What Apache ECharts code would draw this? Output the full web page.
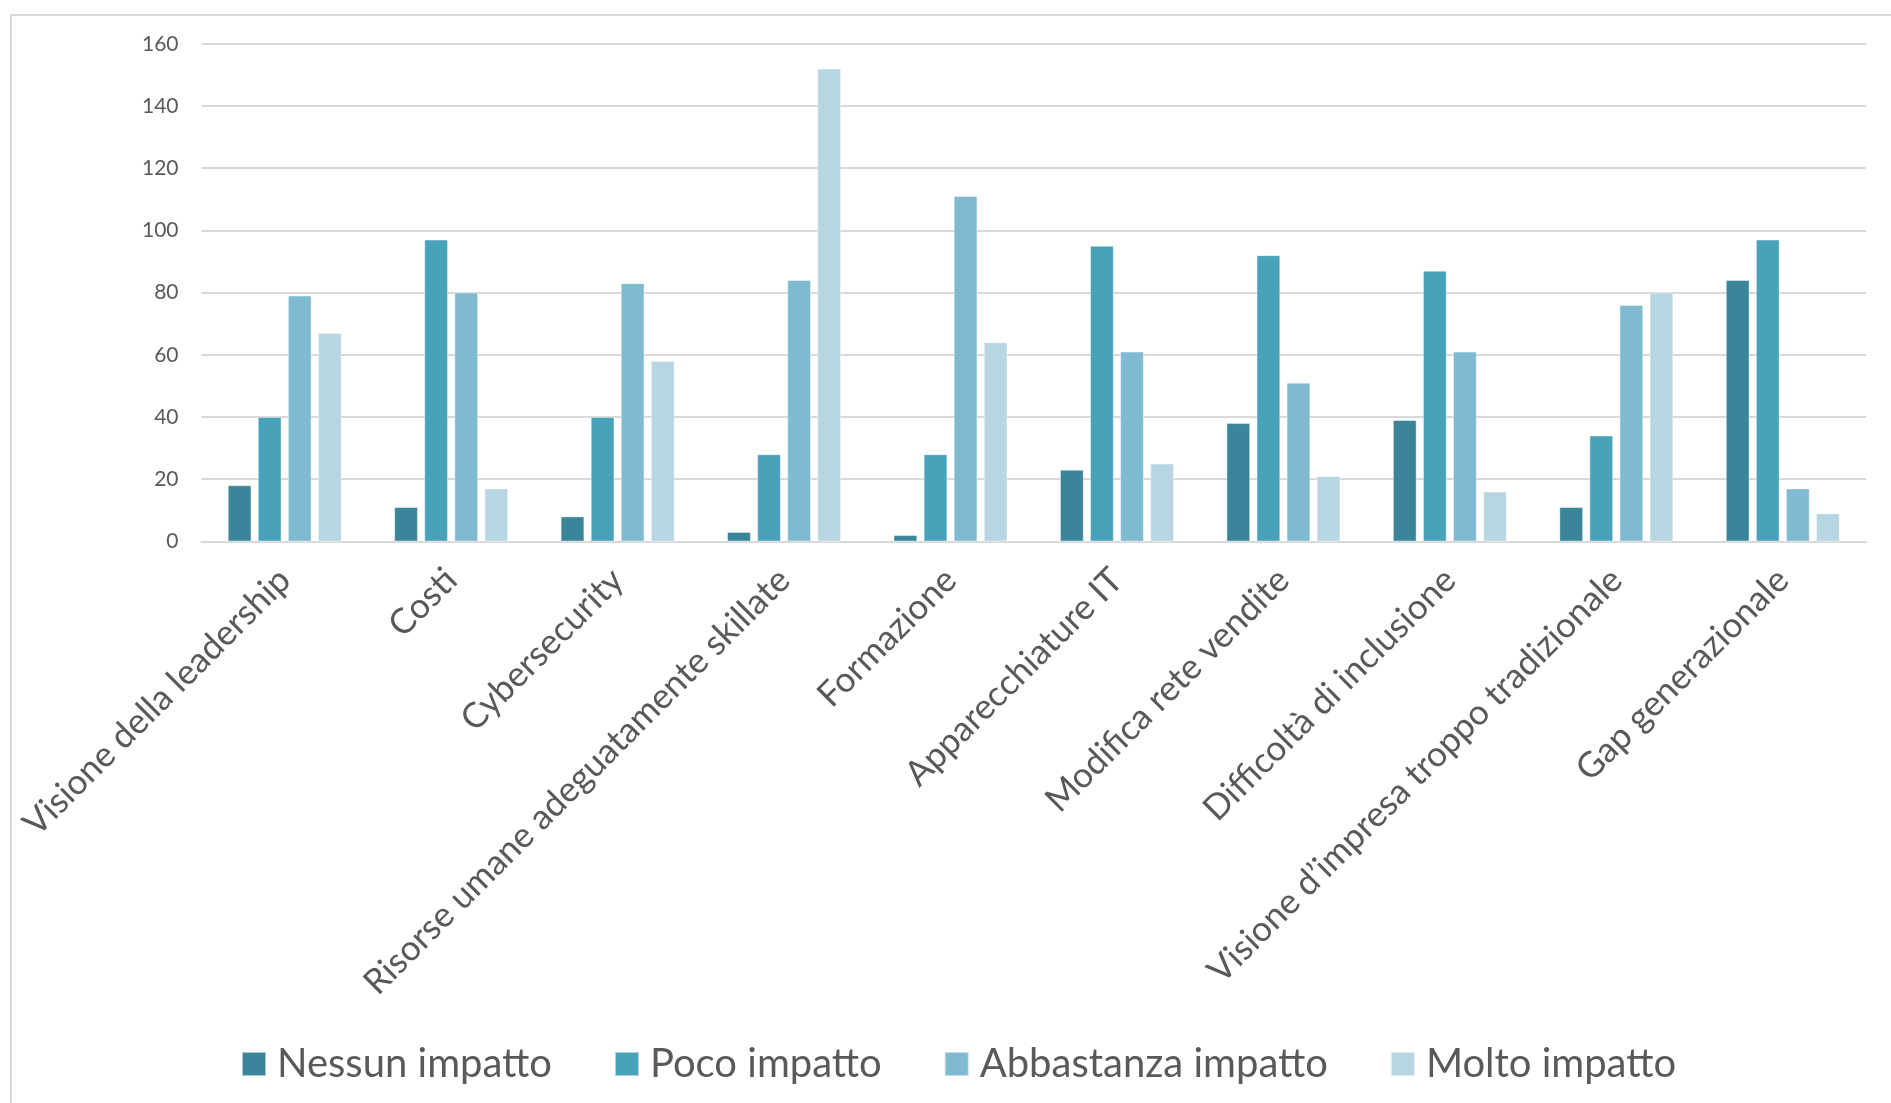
<!DOCTYPE html>
<html>
<head>
<meta charset="utf-8">
<title>Impatto dei fattori</title>
<script src="https://cdn.jsdelivr.net/npm/echarts@6/dist/echarts.min.js"></script>
<style>
  html, body { margin: 0; padding: 0; background: #ffffff; }
  #chart { width: 1891px; height: 1103px; }
</style>
</head>
<body>
<div id="chart"></div>
<script>
// Categories along the x axis
const categories = [
  'Visione della leadership',
  'Costi',
  'Cybersecurity',
  'Risorse umane adeguatamente skillate',
  'Formazione',
  'Apparecchiature IT',
  'Modifica rete vendite',
  'Difficoltà di inclusione',
  'Visione d\u2019impresa troppo tradizionale',
  'Gap generazionale'
];

// Number of answers per impact level
const nessunImpatto     = [18, 11, 8, 3, 2, 23, 38, 39, 11, 84];
const pocoImpatto       = [40, 97, 40, 28, 28, 95, 92, 87, 34, 97];
const abbastanzaImpatto = [79, 80, 83, 84, 111, 61, 51, 61, 76, 17];
const moltoImpatto      = [67, 17, 58, 152, 64, 25, 21, 16, 80, 9];

const seriesNames = ['Nessun impatto', 'Poco impatto', 'Abbastanza impatto', 'Molto impatto'];
const seriesData  = [nessunImpatto, pocoImpatto, abbastanzaImpatto, moltoImpatto];
const seriesColors = ['#3a8599', '#48a2ba', '#7fbad0', '#b7d6e1'];

// Value axis ticks
const yMin = 0, yMax = 160, yStep = 20;

const FONT = 'Lato, "Open Sans", sans-serif';
const TEXT = '#595959';
const GRID = '#d9d9d9';

const chart = echarts.init(document.getElementById('chart'), null, { renderer: 'canvas' });

chart.setOption({
  animation: false,
  backgroundColor: '#ffffff',
  textStyle: { fontFamily: FONT },
  graphic: [{
    type: 'rect',
    silent: true,
    shape: { x: 11, y: 15, width: 2000, height: 2000 },
    style: { fill: 'none', stroke: GRID, lineWidth: 2 }
  }],
  grid: { left: 201.5, right: 25, top: 43.8, bottom: 561.6, containLabel: false },
  legend: {
    left: 241,
    top: 1043,
    padding: 0,
    itemWidth: 24,
    itemHeight: 24,
    itemGap: 62,
    icon: 'rect',
    data: seriesNames,
    textStyle: { fontFamily: FONT, fontSize: 40, color: TEXT, lineHeight: 42, padding: [0, 0, 0, 6] }
  },
  xAxis: {
    type: 'category',
    data: categories,
    axisLine: { lineStyle: { color: GRID, width: 2 } },
    axisTick: { show: false },
    axisLabel: {
      interval: 0,
      rotate: 45,
      margin: 33,
      fontFamily: FONT,
      fontSize: 35,
      color: TEXT
    }
  },
  yAxis: {
    type: 'value',
    min: yMin,
    max: yMax,
    interval: yStep,
    axisLine: { show: false },
    axisTick: { show: false },
    splitLine: { lineStyle: { color: GRID, width: 2 } },
    axisLabel: { margin: 23, fontFamily: FONT, fontSize: 21, color: TEXT }
  },
  series: seriesNames.map((name, i) => ({
    name,
    type: 'bar',
    data: seriesData[i],
    barWidth: 23.5,
    barGap: '28%',
    itemStyle: { color: seriesColors[i], borderColor: 'rgba(255,255,255,0.55)', borderWidth: 0.75 }
  }))
});
</script>
</body>
</html>
